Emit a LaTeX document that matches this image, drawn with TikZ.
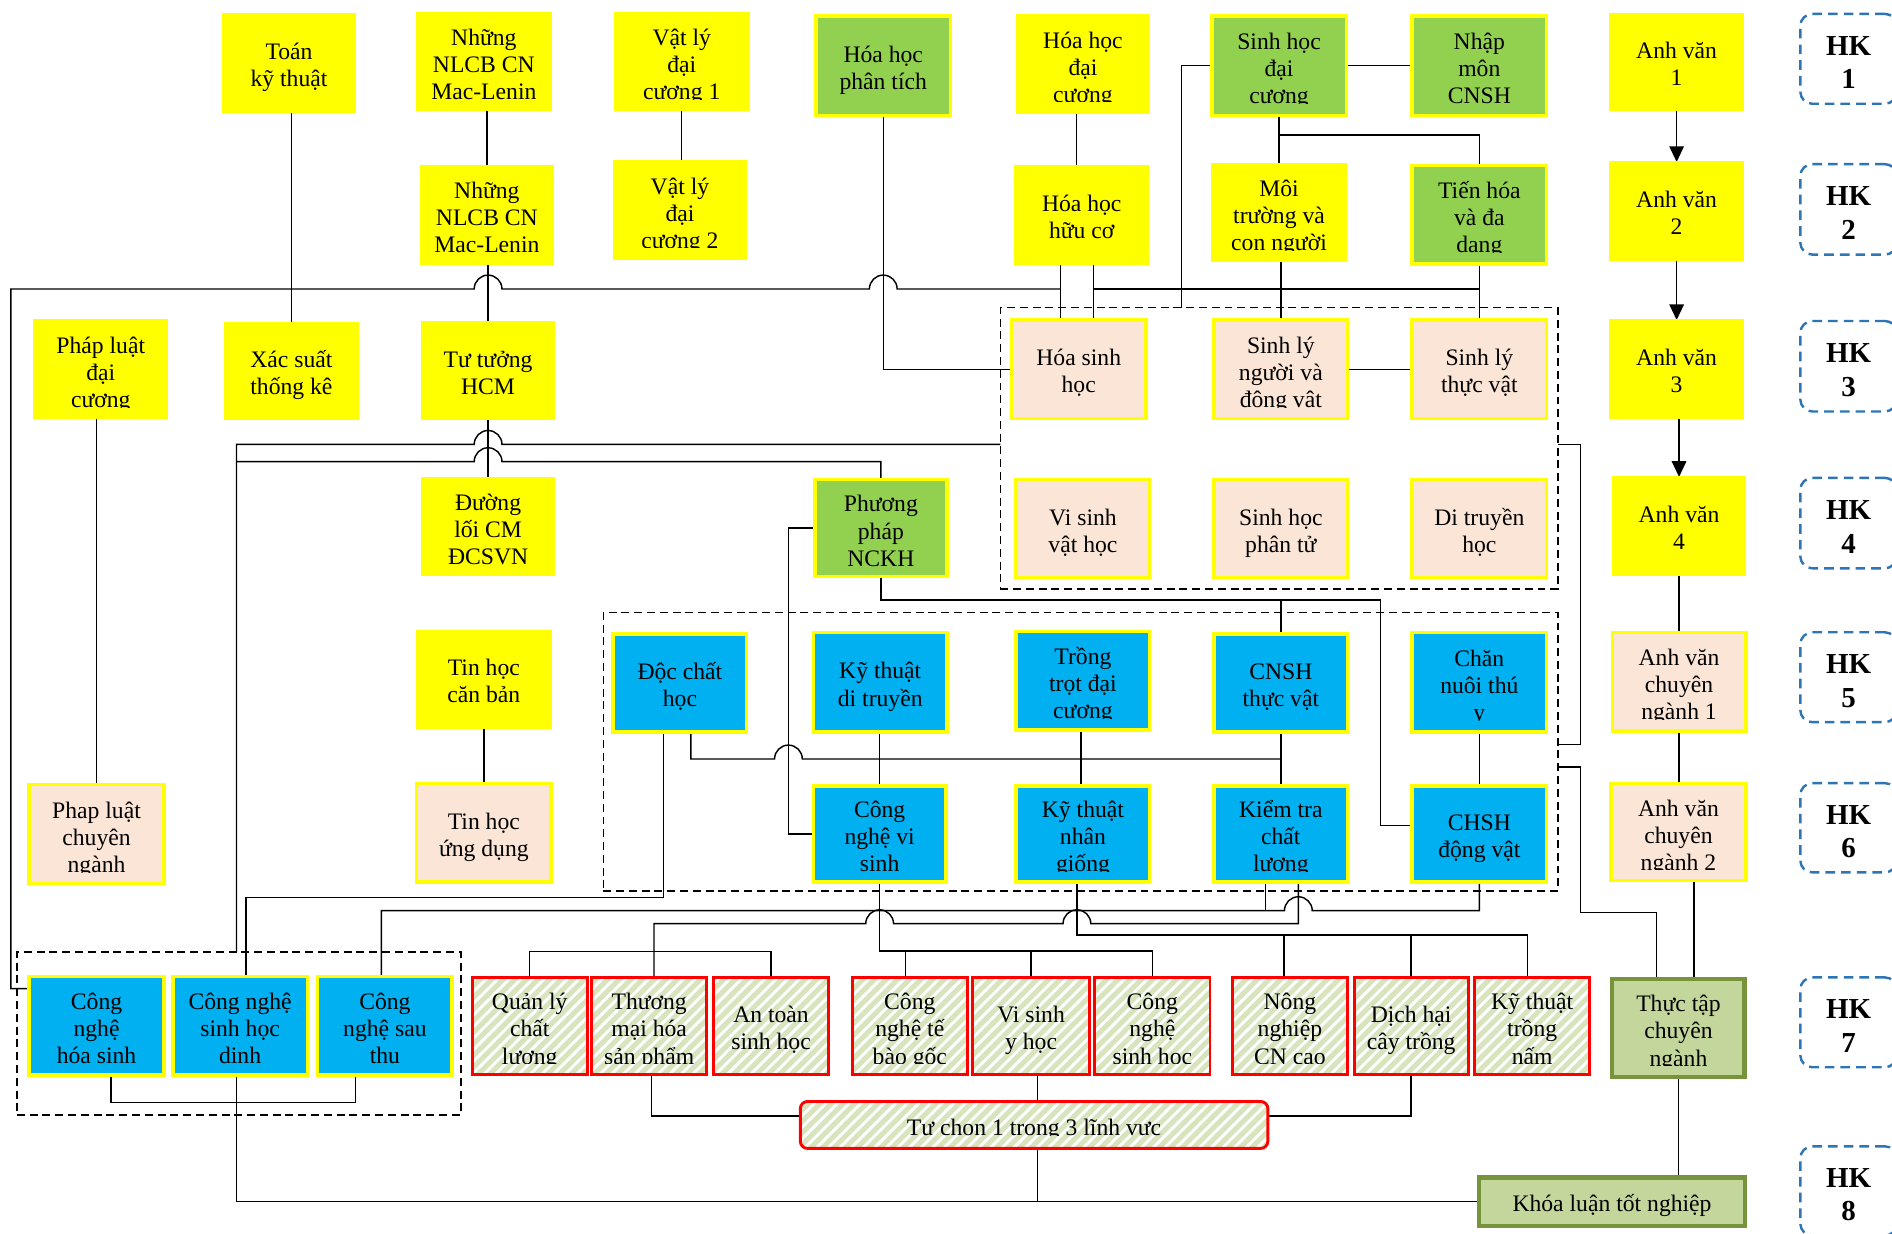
\documentclass[tikz,border=0pt]{standalone}
\usepackage{fontspec}
\setmainfont{Liberation Serif}
\usetikzlibrary{calc,arrows.meta,patterns.meta}
\definecolor{cyel}{HTML}{FFFF00}
\definecolor{cgrn}{HTML}{92D050}
\definecolor{cpch}{HTML}{FBE5D6}
\definecolor{cblu}{HTML}{00B0F0}
\definecolor{chat}{HTML}{D7E4BD}
\definecolor{colv}{HTML}{C3D69B}
\definecolor{colvb}{HTML}{77933C}
\definecolor{chk}{HTML}{2E75B6}
\pgfdeclarelayer{bg}
\pgfsetlayers{bg,main}
\tikzset{
 cbase/.style={rectangle, inner sep=0pt, outer sep=0pt},
 ybox/.style={cbase, fill=cyel, draw=cyel, line width=0.5pt},
 gbox/.style={cbase, fill=cgrn, draw=cyel, line width=1.5pt},
 pbox/.style={cbase, fill=cpch, draw=cyel, line width=1.5pt},
 bbox/.style={cbase, fill=cblu, draw=cyel, line width=1.5pt},
 elective/.style={cbase, preaction={fill=chat}, pattern={Lines[angle=45,distance=3.4pt,line width=1.2pt]}, pattern color=white, draw=red, line width=1.2pt},
 tbox/.style={cbase, fill=colv, draw=colvb, line width=1.75pt},
 txt/.style={inner sep=0pt, anchor=north, align=center, font=\fontsize{9.8}{11.2}\selectfont},
 group/.style={cbase, draw=black, dash pattern=on 3.3pt off 2pt, line width=0.6pt},
 conn/.style={draw=black, line width=0.6pt},
 arr/.style={-{Triangle[length=6.5pt,width=6pt]}},
 hkbox/.style={cbase, draw=chk, dash pattern=on 4pt off 2.5pt, line width=1pt, rounded corners=5pt},
 hktxt/.style={inner sep=0pt, anchor=north, align=center, font=\fontsize{12}{13.8}\selectfont\bfseries},
}
% name, style, x1, y1, x2, y2, lines, clip offset, text
\newcommand\course[9]{%
 \pgfmathsetmacro\crsX{(#3+#5)/2}%
 \pgfmathsetmacro\crsY{(#4+#6)/2}%
 \pgfmathsetmacro\crsW{(#5-#3-2.5)*0.5}%
 \pgfmathsetmacro\crsH{(#6-#4-2.5)*0.5}%
 \pgfmathsetmacro\crsT{\crsY-12-(#7-1)*11.2+(#7-1)*(#7-2)*0.4}%
 \pgfmathsetmacro\crsB{min(#6-1.5,\crsY+#8)}%
 \node[#2, minimum width=\crsW pt, minimum height=\crsH pt] (#1) at (\crsX,\crsY) {};%
 \begin{scope}\clip (#3+1.5,#4+1.5) rectangle (#5-1.5,\crsB);%
 \node[txt] (#1-t) at (\crsX,\crsT) {\rule{0pt}{10pt}#9};%
 \end{scope}}
\newcommand\hk[4]{%
 \pgfmathsetmacro\crsY{(#2+#3)/2}%
 \pgfmathsetmacro\crsH{(#3-#2-2)*0.5}%
 \pgfmathsetmacro\crsT{\crsY-27.2}%
 \node[hkbox, minimum width=40pt, minimum height=\crsH pt] (#1) at (1532,\crsY) {};%
 \node[hktxt] (#1-t) at (1532,\crsT) {\rule{0pt}{12pt}HK\\#4};}
\begin{document}
\begin{tikzpicture}[x=0.5pt,y=-0.5pt]
\useasboundingbox (0,0) rectangle (1568,1022);
% groups
\node[group, minimum width=231pt, minimum height=116.5pt] (g1) at (1060,371.5) {};
\node[group, minimum width=395.5pt, minimum height=115.5pt] (g2) at (895.5,623) {};
\node[group, minimum width=184pt, minimum height=67.5pt] (g3) at (198,856.5) {};
% HK1
\course{toan}{ybox}{183}{10}{296}{94}{2}{31.5}{Toán\\kỹ thuật}
\course{nl1}{ybox}{344}{9}{458}{93}{3}{32.5}{Những\\NLCB CN\\Mac-Lenin}
\course{vl1}{ybox}{508}{9}{622}{93}{3}{31.5}{Vật lý\\đại\\cương 1}
\course{hhpt}{gbox}{675}{12}{789}{97}{2}{31.5}{Hóa học\\phân tích}
\course{hhdc}{ybox}{841}{11}{954}{95}{3}{31.5}{Hóa học\\đại\\cương}
\course{shdc}{gbox}{1003}{12}{1117}{97}{3}{31.5}{Sinh học\\đại\\cương}
\course{nmcnsh}{gbox}{1169}{12}{1283}{97}{3}{31.5}{Nhập\\môn\\CNSH}
\course{av1}{ybox}{1333}{10}{1446}{93}{2}{31.5}{Anh văn\\1}
% HK2
\course{nl2}{ybox}{347}{136}{460}{220}{3}{32.5}{Những\\NLCB CN\\Mac-Lenin}
\course{vl2}{ybox}{507}{132}{620}{216}{3}{31.5}{Vật lý\\đại\\cương 2}
\course{hhhc}{ybox}{840}{136}{953}{220}{2}{31.5}{Hóa học\\hữu cơ}
\course{mtcn}{ybox}{1003}{134}{1117}{218}{3}{31.5}{Môi\\trường và\\con người}
\course{thdd}{gbox}{1169}{136}{1283}{220}{3}{31.5}{Tiến hóa\\và đa\\dạng}
\course{av2}{ybox}{1333}{133}{1446}{217}{2}{31.5}{Anh văn\\2}
% HK3
\course{pldc}{ybox}{27}{264}{140}{348}{3}{31.5}{Pháp luật\\đại\\cương}
\course{xstk}{ybox}{185}{266}{298}{349}{2}{31.5}{Xác suất\\thống kê}
\course{tthcm}{ybox}{348}{265}{461}{349}{2}{31.5}{Tư tưởng\\HCM}
\course{hsh}{pbox}{837}{264}{951}{348}{2}{31.5}{Hóa sinh\\học}
\course{slnd}{pbox}{1005}{264}{1118}{348}{3}{31.5}{Sinh lý\\người và\\động vật}
\course{sltv}{pbox}{1169}{264}{1283}{348}{2}{31.5}{Sinh lý\\thực vật}
\course{av3}{ybox}{1333}{264}{1446}{348}{2}{31.5}{Anh văn\\3}
% HK4
\course{dlcm}{ybox}{348}{394.5}{461}{478.5}{3}{32.5}{Đường\\lối CM\\ĐCSVN}
\course{ppnckh}{gbox}{674}{396}{786}{479}{3}{32.5}{Phương\\pháp\\NCKH}
\course{vsvh}{pbox}{841}{396}{954}{480}{2}{31.5}{Vi sinh\\vật học}
\course{shpt}{pbox}{1005}{396}{1118}{480}{2}{31.5}{Sinh học\\phân tử}
\course{dth}{pbox}{1169}{396}{1283}{480}{2}{31.5}{Di truyền\\học}
\course{av4}{ybox}{1335}{394}{1448}{478}{2}{31.5}{Anh văn\\4}
% HK5
\course{thcb}{ybox}{344}{521}{458}{605}{2}{31.5}{Tin học\\căn bản}
\course{dch}{bbox}{507}{524}{620}{608}{2}{31.5}{Độc chất\\học}
\course{ktdt}{bbox}{673}{523}{786}{608}{2}{31.5}{Kỹ thuật\\di truyền}
\course{ttdc}{bbox}{841}{522}{954}{606}{3}{31.5}{Trồng\\trọt đại\\cương}
\course{cnshtv}{bbox}{1005}{524}{1118}{608}{2}{31.5}{CNSH\\thực vật}
\course{cntv}{bbox}{1169}{523}{1283}{608}{3}{31.5}{Chăn\\nuôi thú\\y}
\course{avcn1}{pbox}{1335}{523}{1448}{607}{3}{31.5}{Anh văn\\chuyên\\ngành 1}
% HK6
\course{plcn}{pbox}{23}{649}{137}{733.5}{3}{31.5}{Phap luật\\chuyên\\ngành}
\course{thud}{pbox}{344}{648}{458}{732}{2}{31.5}{Tin học\\ứng dụng}
\course{cnvs}{bbox}{673}{650}{785}{732}{3}{32.5}{Công\\nghệ vi\\sinh}
\course{ktng}{bbox}{841}{650}{954}{732}{3}{31.5}{Kỹ thuật\\nhân\\giống}
\course{ktcl}{bbox}{1005}{650}{1118}{732}{3}{31.5}{Kiểm tra\\chất\\lượng}
\course{chsh}{bbox}{1169}{650}{1283}{732}{2}{31.5}{CHSH\\động vật}
\course{avcn2}{pbox}{1334}{648}{1448}{731}{3}{31.5}{Anh văn\\chuyên\\ngành 2}
% HK7
\course{cnhs}{bbox}{23}{808}{137}{892}{3}{31.5}{Công\\nghệ\\hóa sinh}
\course{cnshd}{bbox}{142}{808}{256}{892}{3}{31.5}{Công nghệ\\sinh học\\dinh}
\course{cnst}{bbox}{262}{808}{376}{892}{3}{31.5}{Công\\nghệ sau\\thu}
\course{qlcl}{elective}{390}{808.6}{488}{891.8}{3}{31.5}{Quản lý\\chất\\lượng}
\course{tmh}{elective}{489}{808.6}{587}{891.8}{3}{31.5}{Thương\\mại hóa\\sản phẩm}
\course{atsh}{elective}{590}{808.6}{688}{891.8}{2}{31.5}{An toàn\\sinh học}
\course{cntbg}{elective}{705}{808.6}{803}{891.8}{3}{31.5}{Công\\nghệ tế\\bào gốc}
\course{vsyh}{elective}{805}{808.6}{904}{891.8}{2}{31.5}{Vi sinh\\y học}
\course{cnsh}{elective}{906}{808.6}{1004}{891.8}{3}{31.5}{Công\\nghệ\\sinh học}
\course{nncc}{elective}{1020}{808.6}{1118}{891.8}{3}{31.5}{Nông\\nghiệp\\CN cao}
\course{dhct}{elective}{1121}{808.6}{1218}{891.8}{2}{31.5}{Dịch hại\\cây trồng}
\course{kttn}{elective}{1221}{808.6}{1318.6}{891.8}{3}{31.5}{Kỹ thuật\\trồng\\nấm}
\course{ttcn}{tbox}{1335}{810}{1447}{893.7}{3}{31.5}{Thực tập\\chuyên\\ngành}
% HK8
\course{tuchon}{elective,rounded corners=3pt}{662}{911.6}{1052}{953}{1}{9}{Tự chọn 1 trong 3 lĩnh vực}
\course{klnt}{tbox}{1224.3}{974.6}{1447.6}{1017}{1}{31.5}{Khóa luận tốt nghiệp}
% HK labels
\hk{hk1}{10.5}{87}{1}
\hk{hk2}{135}{212}{2}
\hk{hk3}{265}{342}{3}
\hk{hk4}{395}{472}{4}
\hk{hk5}{523}{599.5}{5}
\hk{hk6}{648}{724}{6}
\hk{hk7}{809}{885.5}{7}
\hk{hk8}{949}{1025}{8}
\begin{pgfonlayer}{bg}
\fill[white] (0,0) rectangle (1568,1022);
% HK1-HK2
\draw[conn] (toan.south -| xstk.north) -- (xstk.north);
\draw[conn] (nl2.north |- nl1.south) -- (nl2.north);
\draw[conn] (tthcm.north |- nl2.south) -- (tthcm.north);
\draw[conn] (vl1.south) -- (vl1.south |- vl2.north);
\draw[conn] (892,0 |- hhdc.south) -- (892,0 |- hhhc.north);
\draw[conn] (tthcm.south) -- (dlcm.north);
\draw[conn] (plcn.north |- pldc.south) -- (plcn.north);
\draw[conn] (thcb.south) -- (thud.north);
\draw[conn] (shdc.east) -- (nmcnsh.west);
\draw[conn] (shdc.south) -- (mtcn.north);
\coordinate (j1) at (1060,112);
\draw[conn] (j1) -| (thdd.north);
\draw[conn] (shdc.west) -| ($(g1.north west)+(150,0)$);
\draw[conn] (hhpt.south) |- (hsh.west);
\draw[conn] (879,0 |- hhhc.south) -- (879,0 |- hsh.north);
\draw[conn] (906,0 |- hhhc.south) -- (906,0 |- hsh.north);
\draw[conn] ($(cnhs.north west)+(0,10)$) -| (9,239.5) -- (393,239.5) arc[start angle=180,end angle=360,radius=11.5] -- (720.5,239.5) arc[start angle=180,end angle=360,radius=11.5] -- (879,239.5);
\draw[conn] (906,239.5) -- (thdd.south |- 0,239.5);
\draw[conn] (thdd.south) -- (sltv.north);
\draw[conn] (slnd.north |- mtcn.south) -- (slnd.north);
\draw[conn] (slnd.east) -- (sltv.west);
% group 1 -> group 3 and NCKH
\draw[conn] ($(g3.north west)+(182,0)$) |- (393,368.3) arc[start angle=180,end angle=360,radius=11.5] -- (g1.west |- 0,368.3);
\coordinate (j2) at (196,382.6);
\draw[conn] (j2) -- (393,382.6) arc[start angle=180,end angle=360,radius=11.5] -- (ppnckh.north |- 0,382.6) -- (ppnckh.north);
\draw[conn] (ppnckh.west) -- (653.4,0 |- ppnckh.west) |- (cnvs.west);
\draw[conn] (ppnckh.south) |- (1144.3,497.3) |- ($(chsh.west)+(0,-7)$);
\draw[conn] (cnshtv.north |- 0,497.3) -- (cnshtv.north);
% Doc chat hoc
\draw[conn] ($(dch.south)+(9,0)$) |- (641.9,629) arc[start angle=180,end angle=360,radius=11.5] -- (cnshtv.south |- 0,629);
\draw[conn] ($(dch.south)+(-13.7,0)$) |- (204,744) -- (204,0 |- cnshd.north);
% HK5-HK6
\draw[conn] (cnvs.north |- ktdt.south) -- (cnvs.north);
\draw[conn] (896,0 |- ttdc.south) -- (896,0 |- ktng.north);
\draw[conn] (cnshtv.south) -- (ktcl.north);
\draw[conn] (cntv.south) -- (chsh.north);
% right side
\draw[conn] ($(g1.east)+(0,-3.2)$) -- ++(19,0) |- ($(g2.north east)+(0,109.4)$);
\draw[conn] ($(g2.north east)+(0,128)$) -- ++(19,0) -- (1310,756.4) -| ($(ttcn.north)+(-18,0)$);
\draw[conn] ($(avcn2.south)+(13,0)$) -- (1404,0 |- ttcn.north);
\draw[conn] (ttcn.south) -- (ttcn.south |- klnt.north);
% Anh van
\draw[conn,arr] (av1.south) -- (av2.north);
\draw[conn,arr] (av2.south) -- (av3.north);
\draw[conn,arr] (av4.north |- av3.south) -- (av4.north);
\draw[conn] (av4.south) -- (av4.south |- avcn1.north);
\draw[conn] (avcn1.south) -- (avcn1.south |- avcn2.north);
% bottom area
\draw[conn] ($(cnst.north)+(-3,0)$) |- (1064.5,754.7) arc[start angle=180,end angle=360,radius=11.5] -- (chsh.south |- 0,754.7) -- (chsh.south);
\draw[conn] (1049,0 |- ktcl.south) -- (1049,754.7);
\draw[conn] ($(tmh.north)+(4,0)$) |- (717.5,765.5) arc[start angle=180,end angle=360,radius=11.5] -- (881,765.5) arc[start angle=180,end angle=360,radius=11.5] -- (1076,765.5) -- (1076,0 |- ktcl.south);
\draw[conn] (qlcl.north) |- (atsh.north |- 0,788.7) -- (atsh.north);
\draw[conn] (cnvs.south) |- (cnsh.north |- 0,788) -- (cnsh.north);
\draw[conn] (750.6,788) -- (750.6,0 |- cntbg.north);
\draw[conn] (vsyh.north |- 0,788) -- (vsyh.north);
\draw[conn] (892.5,0 |- ktng.south) |- (1266,775) -- (1266,0 |- kttn.north);
\draw[conn] (1064,775) -- (1064,0 |- nncc.north);
\draw[conn] (dhct.north |- 0,775) -- (dhct.north);
% group 3 and final
\draw[conn] (92,0 |- cnhs.south) |- (294.7,913.9) -- (294.7,0 |- cnst.south);
\draw[conn] (196,0 |- cnshd.south) |- (klnt.west);
\draw[conn] (859.8,0 |- vsyh.south) -- (859.8,0 |- tuchon.north);
\draw[conn] (859.8,0 |- tuchon.south) -- (859.8,0 |- klnt.west);
\draw[conn] ($(tuchon.west)+(0,-7.4)$) -| (539.8,0 |- tmh.south);
\draw[conn] ($(tuchon.east)+(0,-7.4)$) -| (dhct.south);
\end{pgfonlayer}
\end{tikzpicture}
\end{document}
